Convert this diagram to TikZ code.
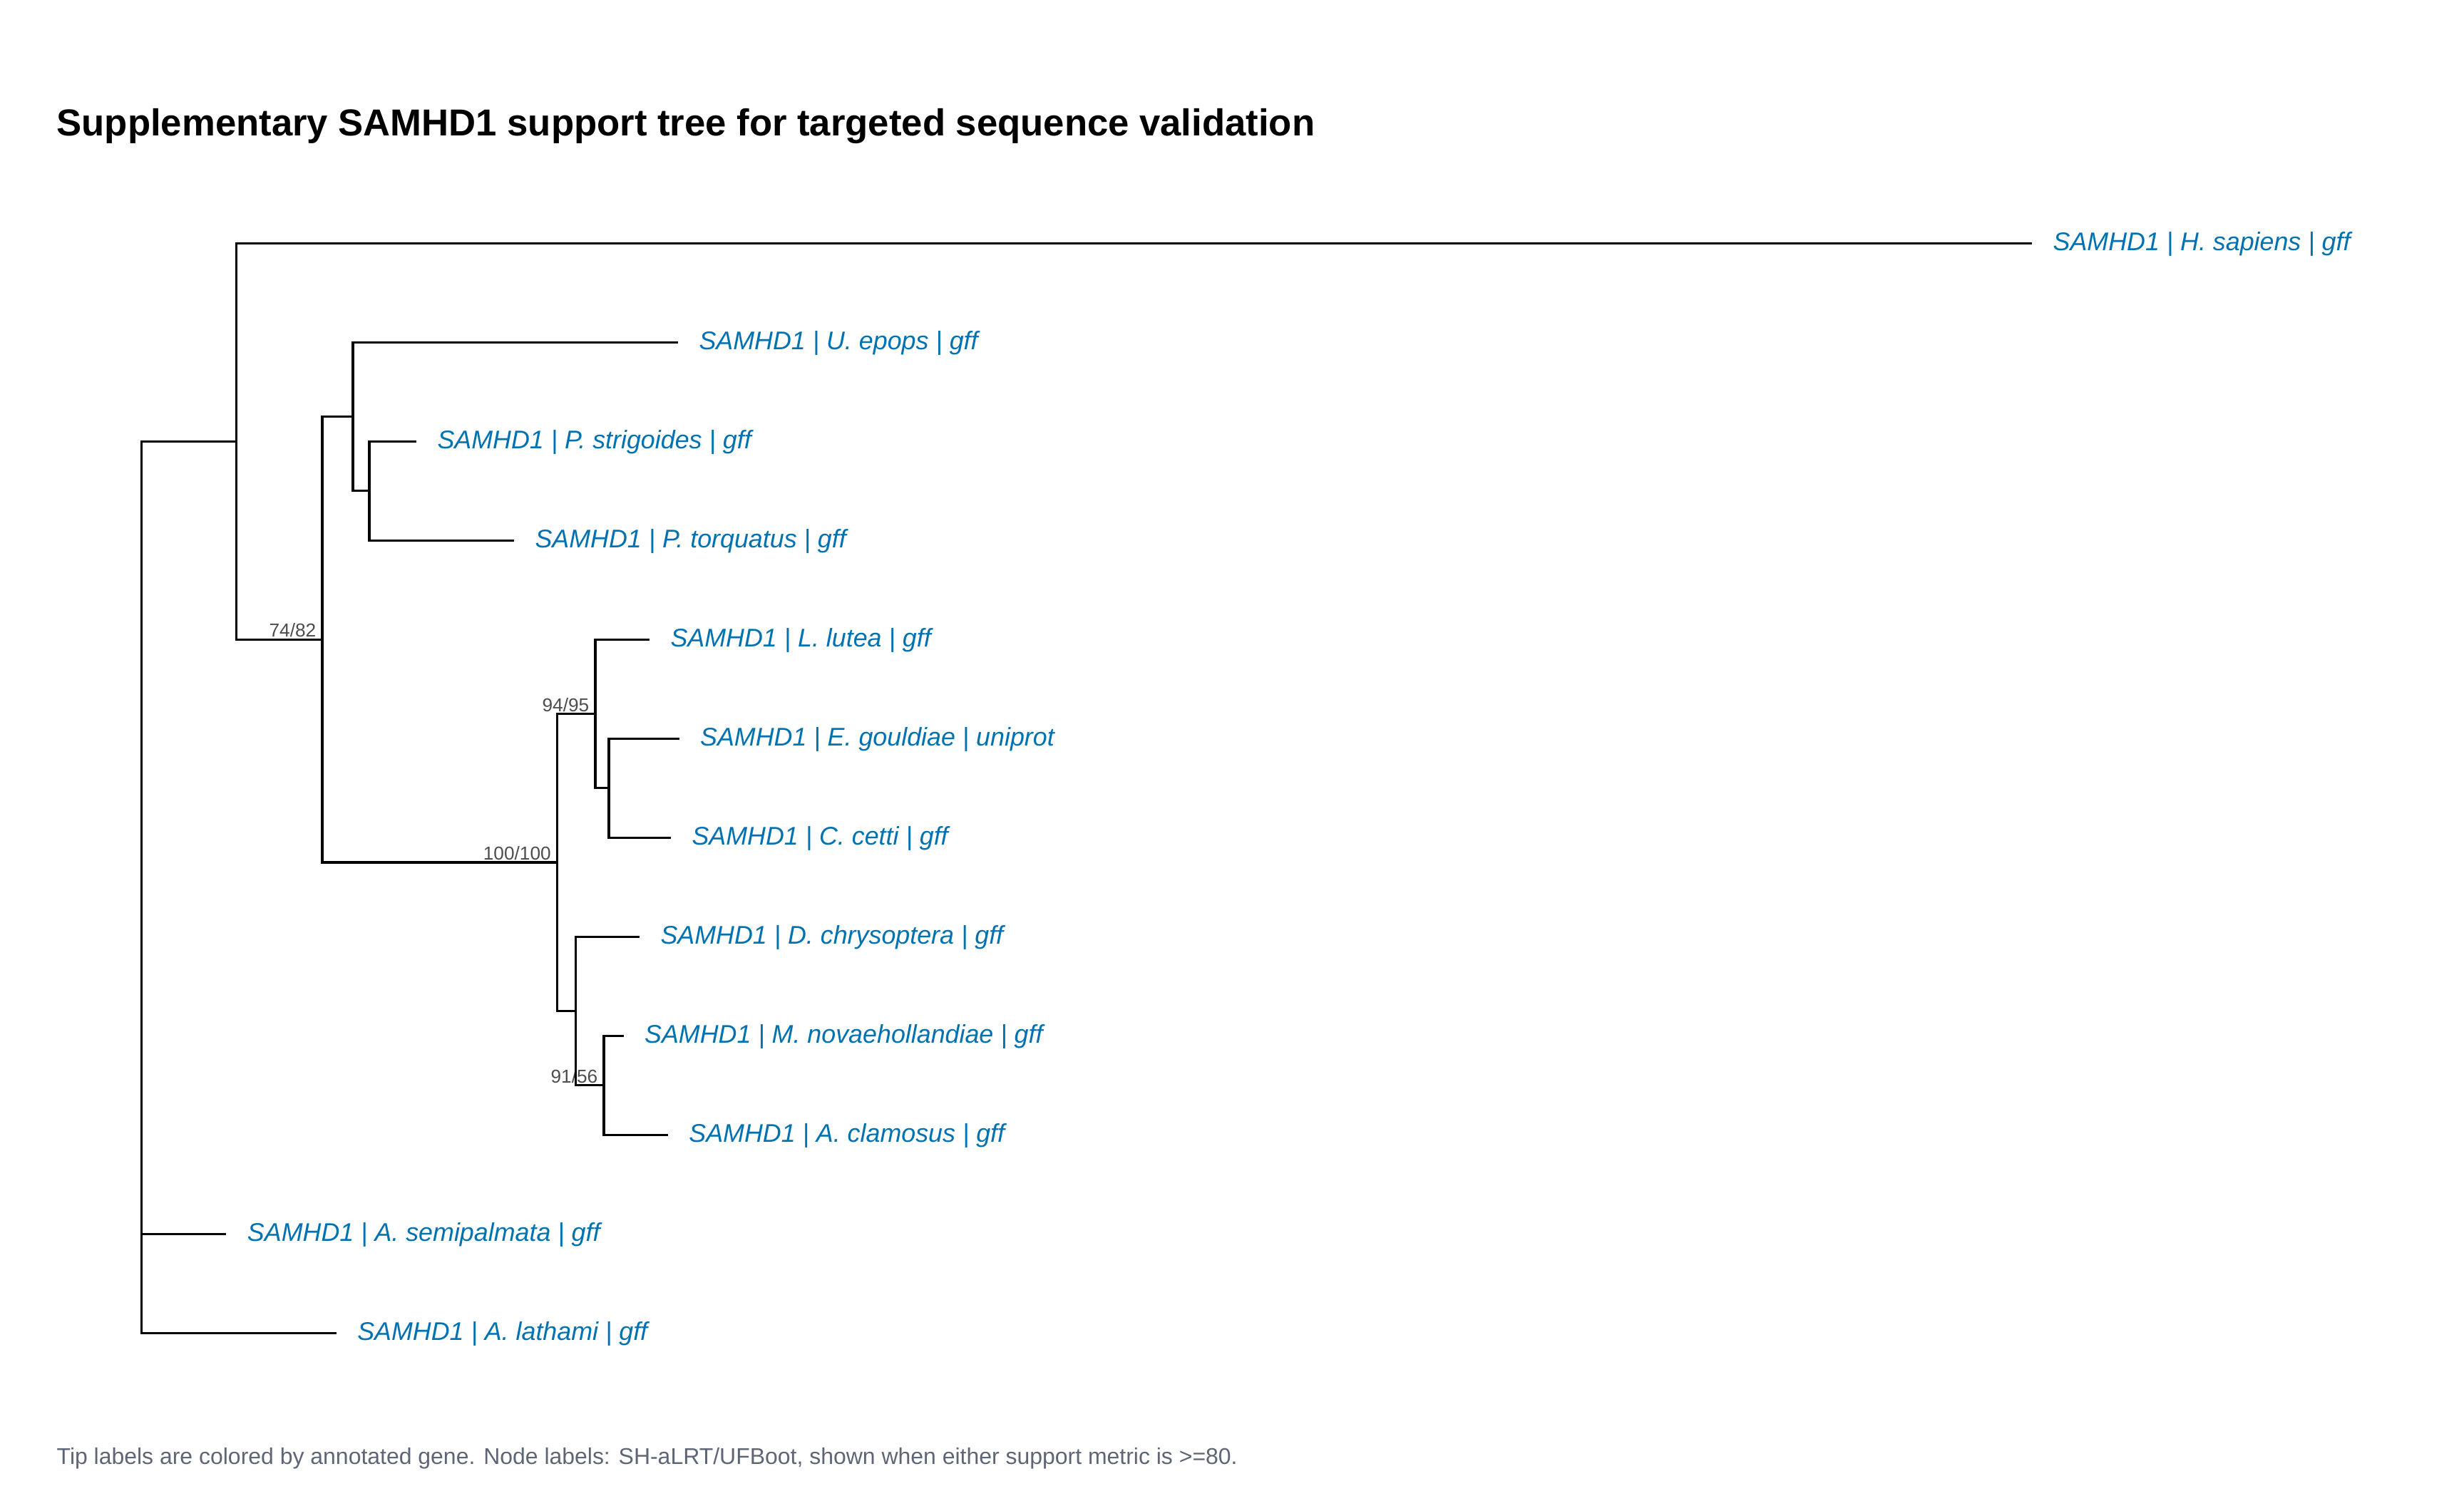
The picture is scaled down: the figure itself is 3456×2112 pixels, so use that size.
\documentclass[tikz,border=0pt]{standalone}
\usepackage{fontspec}
\setmainfont{Liberation Sans}
\usepackage{xcolor}
\usepackage{tikz}
\usetikzlibrary{positioning}
\definecolor{tipblue}{HTML}{0072B2}
\definecolor{supgray}{HTML}{4D4D4D}
\definecolor{capgray}{HTML}{5E6676}
\newcommand{\gn}{SAMHD1}

\begin{document}
\begin{tikzpicture}[x=0.24pt,y=-0.24pt,line width=0.8pt,
    elbow/.style={to path={|- (\tikztotarget)}},
    tip/.style={anchor=base west,inner sep=0pt,xshift=6.7pt,yshift=-2.5pt,text=tipblue,font=\fontsize{8.6}{10}\selectfont\itshape},
    support/.style={anchor=base east,inner sep=0pt,xshift=-1.7pt,yshift=0.85pt,text=supgray,font=\fontsize{6.3}{7}\selectfont}]

    \useasboundingbox (0,0) rectangle (3456,2112);

    % Title and caption
    \node [anchor=base west,inner sep=0pt,font=\fontsize{12.64}{15}\selectfont\bfseries] at (78,190.7) (title) {Supplementary \gn{} support tree for targeted sequence validation};
    \node [anchor=base west,inner sep=0pt,text=capgray,font=\fontsize{7.67}{9}\selectfont] at (78,2054) (caption) {Tip labels are colored by annotated gene. Node labels: SH-aLRT/UFBoot, shown when either support metric is >=80.};

    % Inner nodes
    \coordinate (root) at (198.5,1407);
    \coordinate (nX) at (331.5,619.3);
    \coordinate (nY) at (452,897.3);
    \coordinate (nZ) at (495,584.5);
    \coordinate (nZ2) at (518,688.8);
    \coordinate (nW) at (781.5,1210.1);
    \coordinate (nV) at (835,1001.6);
    \coordinate (nV2) at (854,1105.8);
    \coordinate (nU) at (807.5,1418.6);
    \coordinate (nU2) at (847,1522.8);

    % Tips
    \coordinate (sap) at (2850,341.3);
    \coordinate (epo) at (951,480.3);
    \coordinate (str) at (584,619.3);
    \coordinate (tor) at (721,758.3);
    \coordinate (lut) at (911,897.3);
    \coordinate (gou) at (952.6,1036.3);
    \coordinate (cet) at (941,1175.3);
    \coordinate (chr) at (897,1314.3);
    \coordinate (nov) at (874.6,1453.3);
    \coordinate (cla) at (936.8,1592.3);
    \coordinate (sem) at (317.4,1731.3);
    \coordinate (lat) at (471.7,1870.3);

    % Tip labels
    \node [tip] at (sap) (sapL) {\gn{} | H. sapiens | gff};
    \node [tip] at (epo) (epoL) {\gn{} | U. epops | gff};
    \node [tip] at (str) (strL) {\gn{} | P. strigoides | gff};
    \node [tip] at (tor) (torL) {\gn{} | P. torquatus | gff};
    \node [tip] at (lut) (lutL) {\gn{} | L. lutea | gff};
    \node [tip] at (gou) (gouL) {\gn{} | E. gouldiae | uniprot};
    \node [tip] at (cet) (cetL) {\gn{} | C. cetti | gff};
    \node [tip] at (chr) (chrL) {\gn{} | D. chrysoptera | gff};
    \node [tip] at (nov) (novL) {\gn{} | M. novaehollandiae | gff};
    \node [tip] at (cla) (claL) {\gn{} | A. clamosus | gff};
    \node [tip] at (sem) (semL) {\gn{} | A. semipalmata | gff};
    \node [tip] at (lat) (latL) {\gn{} | A. lathami | gff};

    % Support values
    \node [support] at (nY) (supY) {74/82};
    \node [support] at (nW) (supW) {100/100};
    \node [support] at (nV) (supV) {94/95};
    \node [support] at (nU2) (supU2) {91/56};

    % Tree branches
    \path[draw,elbow]
    (root) edge (nX)
    (root) edge (sem)
    (root) edge (lat)
    (nX) edge (sap)
    (nX) edge (nY)
    (nY) edge (nZ)
    (nY) edge (nW)
    (nZ) edge (epo)
    (nZ) edge (nZ2)
    (nZ2) edge (str)
    (nZ2) edge (tor)
    (nW) edge (nV)
    (nW) edge (nU)
    (nV) edge (lut)
    (nV) edge (nV2)
    (nV2) edge (gou)
    (nV2) edge (cet)
    (nU) edge (chr)
    (nU) edge (nU2)
    (nU2) edge (nov)
    (nU2) edge (cla)
    ;

\end{tikzpicture}
\end{document}
